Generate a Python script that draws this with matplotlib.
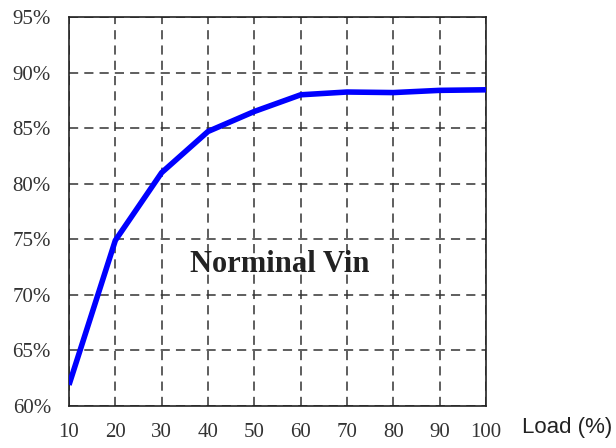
import matplotlib.pyplot as plt

load = [10, 20, 30, 40, 50, 60, 70, 80, 90, 100]
efficiency = [61.9, 74.9, 81.0, 84.7, 86.5, 88.0, 88.25, 88.2, 88.4, 88.45]
x_ticks = [10, 20, 30, 40, 50, 60, 70, 80, 90, 100]
y_ticks = [60, 65, 70, 75, 80, 85, 90, 95]

fig = plt.figure(figsize=(6.16, 4.48), dpi=100)
ax = fig.add_axes([69 / 616, 42 / 448, 417 / 616, 389 / 448])

ax.plot(load, efficiency, color="#0000ff", linewidth=4, solid_capstyle="butt", zorder=3)

ax.set_xlim(10, 100)
ax.set_ylim(60, 95)
ax.set_xticks(x_ticks)
ax.set_yticks(y_ticks)
ax.set_yticklabels([f"{v}%" for v in y_ticks])
ax.grid(True, color="#333333", linestyle=(0, (6, 4)), linewidth=1.1)
ax.tick_params(length=0, labelsize=15, labelcolor="#333333")
ax.tick_params(axis="y", pad=13)
ax.tick_params(axis="x", pad=12)
for lab in ax.get_xticklabels() + ax.get_yticklabels():
    lab.set_family("Liberation Serif")
for sp in ax.spines.values():
    sp.set_linewidth(1.2)
    sp.set_color("#222222")

ax.text(55.5, 72.7, "Norminal Vin", family="Liberation Serif", fontweight="bold",
        fontsize=22, ha="center", va="center", color="#222222")

fig.text(567 / 616, 1 - 427 / 448, "Load (%)", family="Liberation Sans", fontsize=16,
         ha="center", va="center", color="#222222")

fig.savefig("out.png", dpi=100)
